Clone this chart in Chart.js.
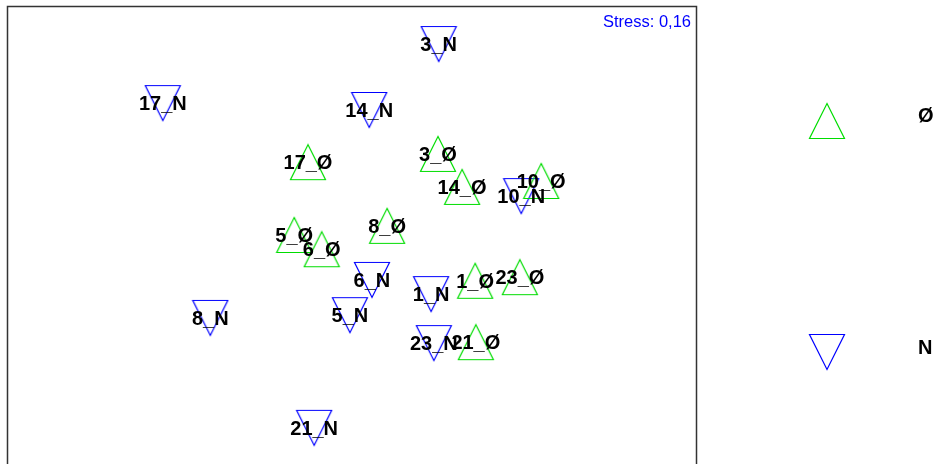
<!DOCTYPE html>
<html>
<head>
<meta charset="utf-8">
<script src="https://cdn.jsdelivr.net/npm/chart.js@4.4.0/dist/chart.umd.min.js"></script>
<style>
  html, body { margin: 0; padding: 0; background: #fff; overflow: hidden; }
  #wrap { position: relative; width: 939px; height: 464px; }
</style>
</head>
<body>
<div id="wrap"><canvas id="myChart" width="939" height="464"></canvas></div>
<script>
'use strict';

// MDS coordinates (arbitrary units, box = 0..100 both ways)
let oLabels = ['17_Ø', '3_Ø', '14_Ø', '10_Ø', '8_Ø', '5_Ø', '6_Ø', '1_Ø', '23_Ø', '21_Ø'];
let oX = [43.6, 62.5, 66.0, 77.5, 55.1, 41.6, 45.6, 67.9, 74.4, 68.0];
let oY = [65.9, 67.7, 60.5, 61.8, 52.0, 50.0, 46.9, 40.0, 40.8, 26.6];

let nLabels = ['3_N', '17_N', '14_N', '10_N', '6_N', '1_N', '5_N', '8_N', '23_N', '21_N'];
let nX = [62.6, 22.5, 52.5, 74.6, 52.9, 61.5, 49.7, 29.4, 61.9, 44.5];
let nY = [91.7, 78.8, 77.3, 58.5, 40.2, 37.1, 32.5, 31.9, 26.4, 7.9];

let groupNames = ['Ø', 'N'];
let stressText = 'Stress: 0,16';

let green = '#00dd00';
let blue = '#0000ff';

function makeTriangle(color, up) {
    let c = document.createElement('canvas');
    c.width = 38;
    c.height = 38;
    let g = c.getContext('2d');
    g.strokeStyle = color;
    g.lineWidth = 1.2;
    g.beginPath();
    if (up) {
        g.moveTo(19, 1.5);
        g.lineTo(36.5, 36.5);
        g.lineTo(1.5, 36.5);
    } else {
        g.moveTo(1.5, 1.5);
        g.lineTo(36.5, 1.5);
        g.lineTo(19, 36.5);
    }
    g.closePath();
    g.stroke();
    return c;
}

let upTri = makeTriangle(green, true);
let downTri = makeTriangle(blue, false);

function toPoints(xs, ys) {
    let pts = [];
    for (let i = 0; i < xs.length; i++) {
        pts.push({ x: xs[i], y: ys[i] });
    }
    return pts;
}

// box, stress text, point labels and the side legend
let extras = {
    id: 'extras',
    beforeDatasetsDraw(chart) {
        let ctx = chart.ctx;
        let a = chart.chartArea;
        ctx.save();
        ctx.strokeStyle = '#333';
        ctx.lineWidth = 1.5;
        ctx.strokeRect(a.left - 0.5, a.top + 0.5, a.right - a.left + 1, a.bottom - a.top + 20);
        ctx.fillStyle = blue;
        ctx.font = '16.5px "Liberation Sans", Arial, sans-serif';
        ctx.textAlign = 'right';
        ctx.textBaseline = 'alphabetic';
        ctx.fillText(stressText, a.right - 5, 27);
        ctx.restore();
    },
    afterDatasetsDraw(chart) {
        let ctx = chart.ctx;
        ctx.save();
        ctx.fillStyle = '#000';
        ctx.font = 'bold 20px "Liberation Sans", Arial, sans-serif';
        ctx.textAlign = 'center';
        ctx.textBaseline = 'middle';
        let allLabels = [oLabels, nLabels];
        chart.data.datasets.forEach(function (ds, d) {
            let meta = chart.getDatasetMeta(d);
            meta.data.forEach(function (el, i) {
                ctx.fillText(allLabels[d][i], el.x, el.y + 1.5);
            });
        });
        // legend
        ctx.drawImage(upTri, 808, 102);
        ctx.drawImage(downTri, 808, 333);
        ctx.textAlign = 'left';
        ctx.fillText(groupNames[0], 918, 116);
        ctx.fillText(groupNames[1], 918, 348);
        ctx.restore();
    }
};

let ctx = document.getElementById('myChart').getContext('2d');
let myChart = new Chart(ctx, {
    type: 'scatter',
    data: {
        datasets: [{
            label: groupNames[0],
            data: toPoints(oX, oY),
            pointStyle: upTri,
            pointRadius: 18,
            pointHoverRadius: 18
        },
        {
            label: groupNames[1],
            data: toPoints(nX, nY),
            pointStyle: downTri,
            pointRadius: 18,
            pointHoverRadius: 18
        }]
    },
    options: {
        responsive: false,
        animation: false,
        events: [],
        layout: {
            autoPadding: false,
            padding: { left: 8, top: 6, right: 243, bottom: 0 }
        },
        plugins: {
            legend: { display: false },
            tooltip: { enabled: false }
        },
        scales: {
            x: { display: false, min: 0, max: 100 },
            y: { display: false, min: 0, max: 100 }
        }
    },
    plugins: [extras]
});
</script>
</body>
</html>
